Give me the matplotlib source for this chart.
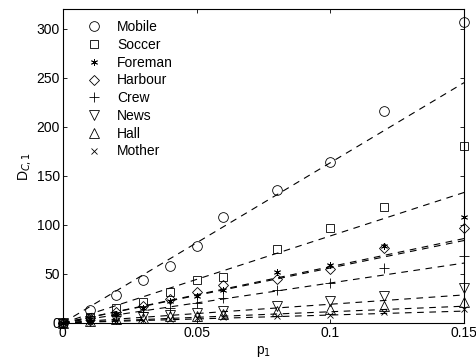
import numpy as np
import matplotlib.pyplot as plt

plt.rcParams['font.family'] = ['Liberation Sans', 'DejaVu Sans']

# x positions (p1)
p1 = [0, 0.01, 0.02, 0.03, 0.04, 0.05, 0.06, 0.08, 0.1, 0.12, 0.15]

names = ['Mobile', 'Soccer', 'Foreman', 'Harbour', 'Crew', 'News', 'Hall', 'Mother']
mobile = [0, 13, 28, 44, 58, 78, 108, 136, 164, 216, 307]
soccer = [0, 6, 15, 21, 31, 44, 47, 75, 97, 118, 180]
foreman = [0, 4, 9, 15, 22, 27, 34, 52, 59, 78, 108]
harbour = [0, 5, 11, 17, 24, 31, 39, 45, 55, 76, 97]
crew = [0, 3, 7, 11, 15, 20, 25, 34, 41, 56, 68]
news = [0, 2, 4, 6, 8, 10, 12.5, 17, 22, 27, 36]
hall = [0, 2, 3.5, 5, 6.5, 7.5, 9, 12, 14, 17, 21]
mother = [0, 1, 2, 3, 4, 5, 6, 7, 8, 11.5, 14]
series = [mobile, soccer, foreman, harbour, crew, news, hall, mother]
markers = ['o', 's', (6, 2, 0), 'D', '+', 'v', '^', 'x']
msizes = [7, 5.5, 5, 5.5, 7, 7, 7, 5]

# dashed fit lines, value at p1=0 and p1=0.15
fit_x = [0, 0.15]
fit_end = [245, 133, 86, 84, 61, 28.5, 17, 12]

fig = plt.figure(figsize=(4.76, 3.64), dpi=100)
ax = fig.add_axes([0.132, 0.113, 0.843, 0.862])

for i in range(len(names)):
    ax.plot(fit_x, [0, fit_end[i]], color='k', linestyle=(0, (6, 5)), linewidth=0.8)
for i in range(len(names)):
    ax.plot(p1, series[i], linestyle='none', marker=markers[i], markersize=msizes[i],
            markerfacecolor='none', markeredgecolor='k', markeredgewidth=0.6,
            label=names[i], clip_on=False)

ax.set_xlim(0, 0.15)
ax.set_ylim(0, 320)
ax.set_xticks([0, 0.05, 0.1, 0.15])
ax.set_xticklabels(['0', '0.05', '0.1', '0.15'])
ax.set_yticks([0, 50, 100, 150, 200, 250, 300])
ax.tick_params(direction='in', top=True, right=True, labelsize=10, length=3, width=0.6, pad=2)
for s in ax.spines.values():
    s.set_linewidth(0.8)
ax.set_xlabel('p$_1$', fontsize=10, labelpad=3)
ax.set_ylabel('D$_{C,1}$', fontsize=10, labelpad=3)

ax.legend(loc='upper left', frameon=False, fontsize=10, handletextpad=0.9,
          labelspacing=0.27, borderaxespad=0.4, bbox_to_anchor=(0.025, 1.0),
          handlelength=1.5)

fig.savefig('out.png', dpi=100)
